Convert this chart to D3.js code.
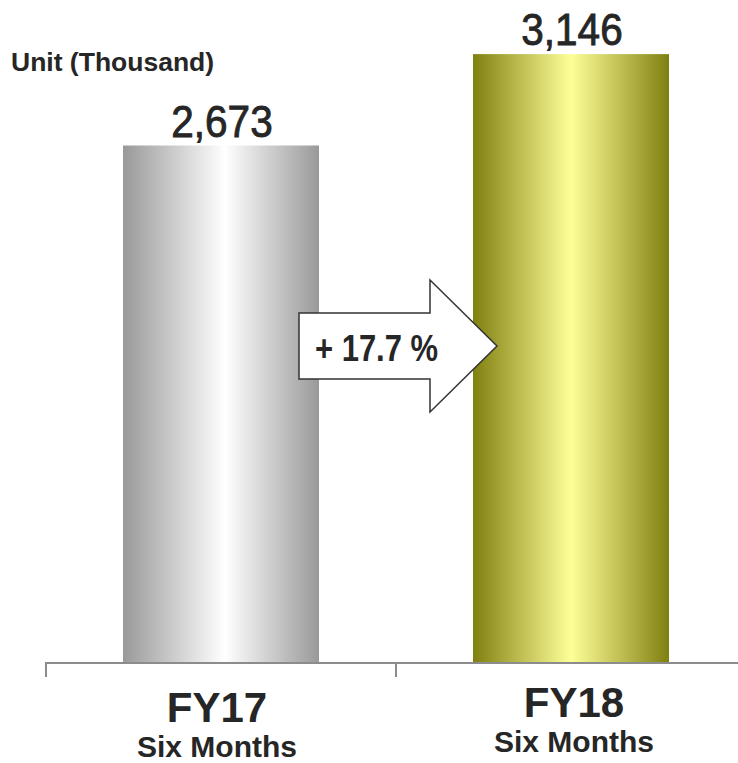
<!DOCTYPE html>
<html>
<head>
<meta charset="utf-8">
<script src="https://cdn.jsdelivr.net/npm/d3@7"></script>
<style>
  html, body { margin: 0; padding: 0; background: #fff; }
  svg { display: block; }
</style>
</head>
<body>
<svg id="chart" width="738" height="763"></svg>
<script>
// ---- data ----
const categories = ["FY17", "FY18"];
const subLabels = ["Six Months", "Six Months"];
const values = [2673, 3146];
const valueLabels = ["2,673", "3,146"];
const growthLabel = "+ 17.7 %";
const unitLabel = "Unit (Thousand)";

// ---- layout ----
const W = 738, H = 763;
const baseY = 662;
const svg = d3.select("#chart");

const x = d3.scaleBand().domain(categories).range([46, 746])
  .paddingInner(0.44).paddingOuter(0.22);
const y = d3.scaleLinear().domain([0, 3426]).range([baseY, 0]);

// horizontally condense a text selection by factor f
function condense(sel, f) {
  sel.each(function () {
    const len = this.getComputedTextLength();
    d3.select(this).attr("textLength", len * f).attr("lengthAdjust", "spacingAndGlyphs");
  });
}

const defs = svg.append("defs");
const gradStops = [
  [{o: "0%", c: "#999999"}, {o: "52%", c: "#ffffff"}, {o: "100%", c: "#999999"}],
  [{o: "0%", c: "#808010"}, {o: "50%", c: "#ffff99"}, {o: "100%", c: "#808010"}]
];
gradStops.forEach((stops, i) => {
  const g = defs.append("linearGradient").attr("id", "grad" + i)
    .attr("x1", "0%").attr("x2", "100%").attr("y1", "0%").attr("y2", "0%");
  stops.forEach(s => g.append("stop").attr("offset", s.o).attr("stop-color", s.c));
});

const data = categories.map((c, i) => ({cat: c, sub: subLabels[i], v: values[i], lbl: valueLabels[i], i}));

// bars
svg.selectAll("rect.bar").data(data).enter().append("rect")
  .attr("class", "bar")
  .attr("x", d => x(d.cat))
  .attr("width", x.bandwidth())
  .attr("y", d => y(d.v))
  .attr("height", d => baseY - y(d.v))
  .attr("fill", d => `url(#grad${d.i})`);

// axis line and ticks
const axisColor = "#8c8c8c";
const step = x.step();
const boundaries = categories.map(c => x(c) - step * x.paddingInner() / 2);
svg.append("line").attr("x1", boundaries[0]).attr("x2", W)
  .attr("y1", baseY + 1).attr("y2", baseY + 1)
  .attr("stroke", axisColor).attr("stroke-width", 2);
svg.selectAll("line.tick").data(boundaries).enter().append("line")
  .attr("class", "tick")
  .attr("x1", d => d).attr("x2", d => d)
  .attr("y1", baseY).attr("y2", baseY + 15)
  .attr("stroke", axisColor).attr("stroke-width", 2);

// value labels
const vals = svg.selectAll("text.val").data(data).enter().append("text")
  .attr("class", "val")
  .attr("x", d => x(d.cat) + x.bandwidth() / 2 + 1)
  .attr("y", d => y(d.v) - 9)
  .attr("text-anchor", "middle")
  .attr("font-family", "'Liberation Sans', Arial, sans-serif")
  .attr("font-size", 45)
  .attr("fill", "#262626")
  .attr("stroke", "#262626")
  .attr("stroke-width", 0.9)
  .text(d => d.lbl);
condense(vals, 0.9);

// category labels
const catDx = [-4, 3];
const catDy = [0, -5];
svg.selectAll("text.cat").data(data).enter().append("text")
  .attr("class", "cat")
  .attr("x", d => x(d.cat) + x.bandwidth() / 2 + catDx[d.i])
  .attr("y", d => 722 + catDy[d.i])
  .attr("text-anchor", "middle")
  .attr("font-family", "'Liberation Sans', Arial, sans-serif")
  .attr("font-weight", "bold")
  .attr("font-size", 42)
  .attr("fill", "#262626")
  .text(d => d.cat);
svg.selectAll("text.sub").data(data).enter().append("text")
  .attr("class", "sub")
  .attr("x", d => x(d.cat) + x.bandwidth() / 2 + catDx[d.i])
  .attr("y", d => 757 + catDy[d.i])
  .attr("text-anchor", "middle")
  .attr("font-family", "'Liberation Sans', Arial, sans-serif")
  .attr("font-weight", "bold")
  .attr("font-size", 30)
  .attr("fill", "#262626")
  .text(d => d.sub);

// unit label
svg.append("text").attr("x", 11).attr("y", 71)
  .attr("font-family", "'Liberation Sans', Arial, sans-serif")
  .attr("font-weight", "bold")
  .attr("font-size", 26.5)
  .attr("fill", "#262626")
  .text(unitLabel);

// growth arrow
const bar1Right = x(categories[0]) + x.bandwidth();
const bar2Left = x(categories[1]);
const ax0 = bar1Right - 20, axTip = bar2Left + 24, axHead = axTip - 67;
const acy = 346, bodyHalf = 33, headHalf = 66;
const arrowPts = [
  [ax0, acy - bodyHalf], [axHead, acy - bodyHalf], [axHead, acy - headHalf],
  [axTip, acy], [axHead, acy + headHalf], [axHead, acy + bodyHalf], [ax0, acy + bodyHalf]
];
svg.append("path")
  .attr("d", d3.line()(arrowPts) + "Z")
  .attr("fill", "#ffffff")
  .attr("stroke", "#333333")
  .attr("stroke-width", 1.5)
  .attr("stroke-linejoin", "miter");
const g = svg.append("text").attr("x", ax0 + 16).attr("y", acy + 15)
  .attr("font-family", "'Liberation Sans', Arial, sans-serif")
  .attr("font-weight", "bold")
  .attr("font-size", 36)
  .attr("fill", "#262626")
  .text(growthLabel);
condense(g, 0.86);
</script>
</body>
</html>
